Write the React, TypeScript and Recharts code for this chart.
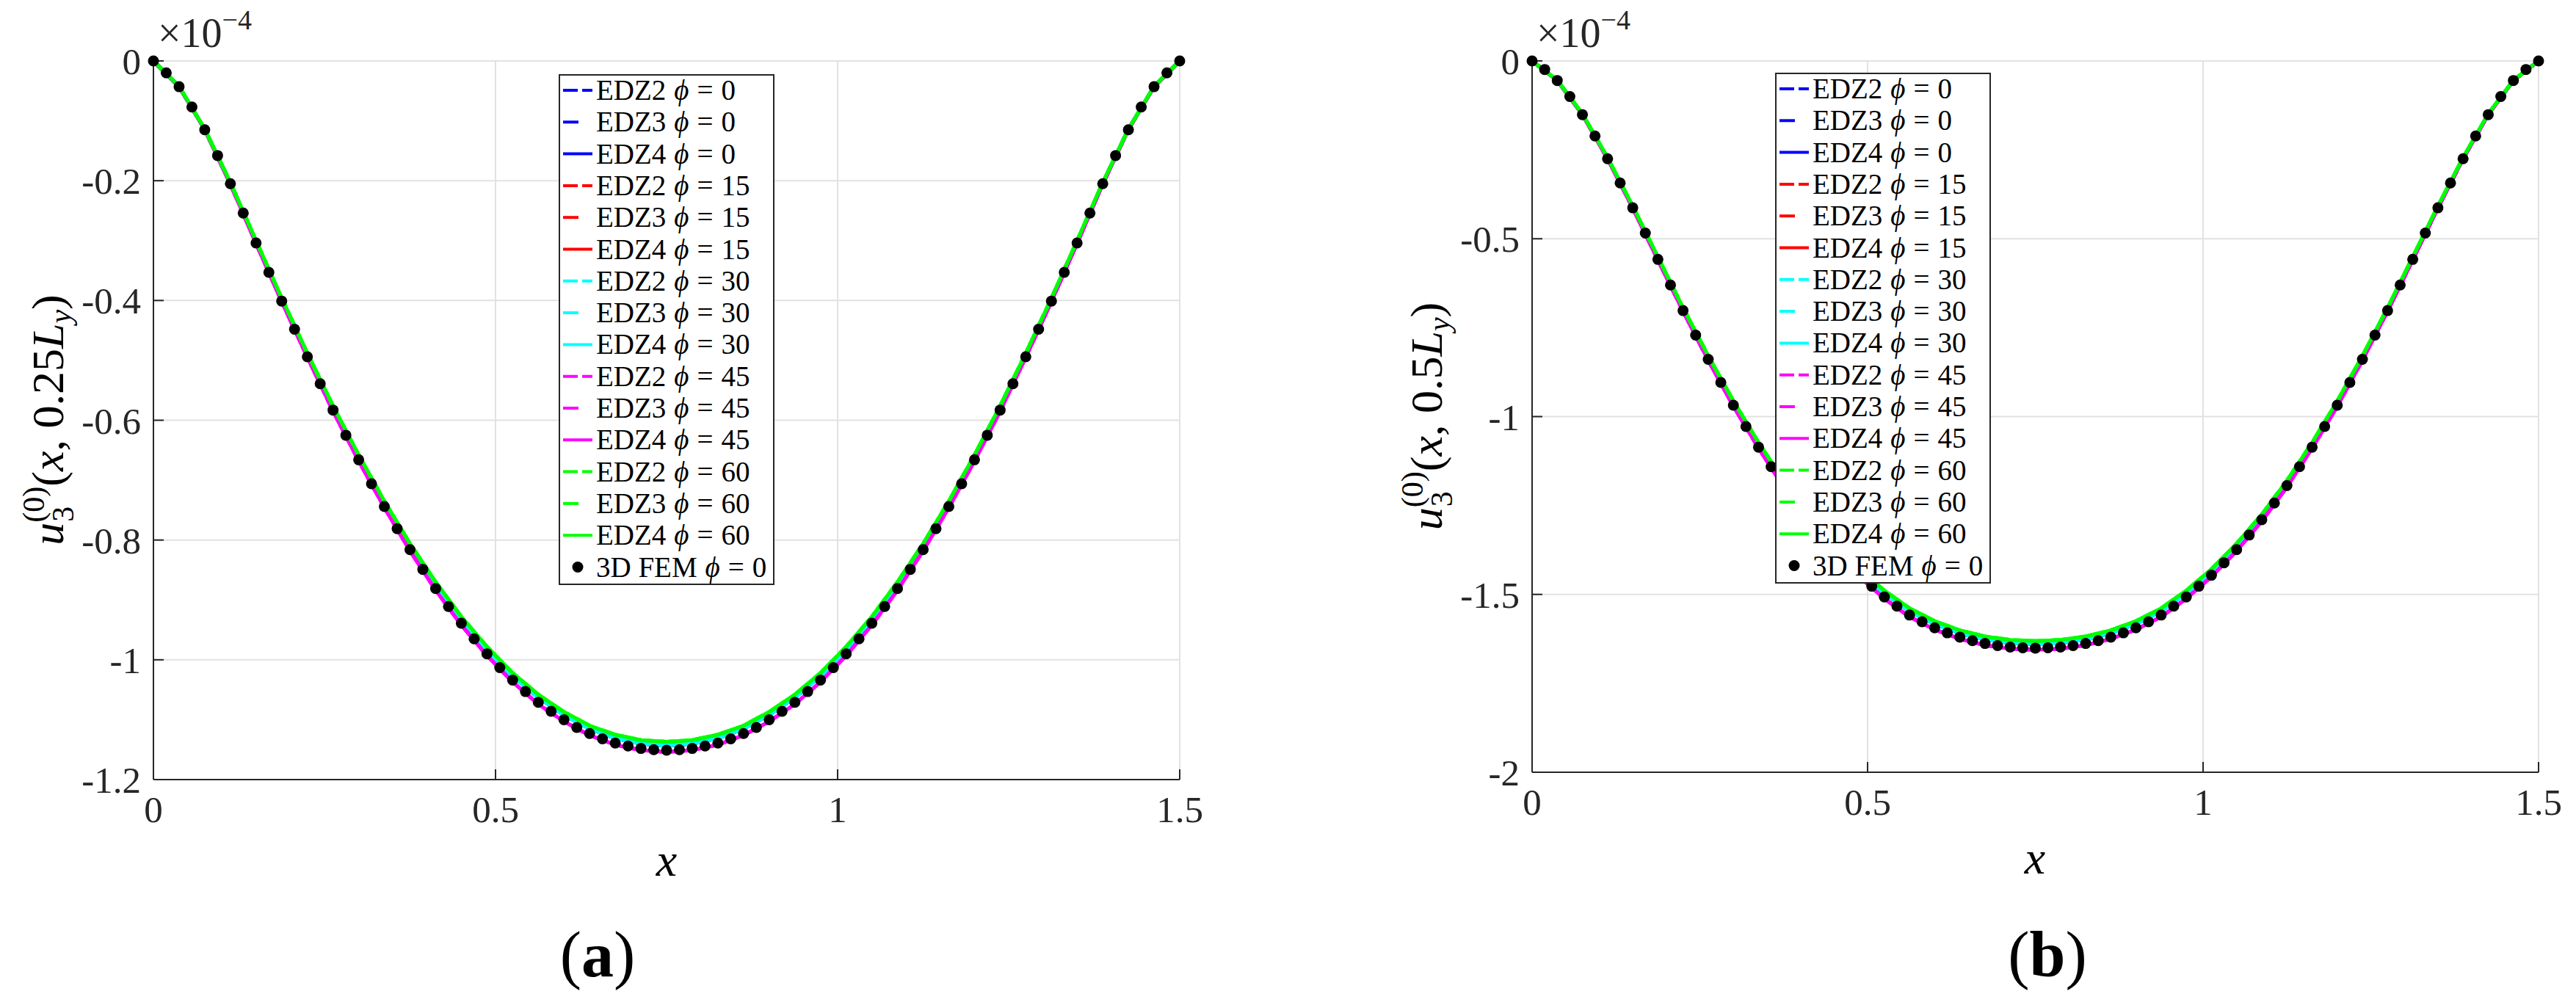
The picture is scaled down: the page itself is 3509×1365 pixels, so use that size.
import React from 'react';
import { ComposedChart, Line, Scatter, XAxis, YAxis, CartesianGrid } from 'recharts';

// sample positions along x (3D FEM points and model polyline vertices)
const xFem = [0, 0.01875, 0.0375, 0.05625, 0.075, 0.09375, 0.1125, 0.13125, 0.15, 0.16875, 0.1875, 0.20625, 0.225, 0.24375, 0.2625, 0.28125, 0.3, 0.31875, 0.3375, 0.35625, 0.375, 0.39375, 0.4125, 0.43125, 0.45, 0.46875, 0.4875, 0.50625, 0.525, 0.54375, 0.5625, 0.58125, 0.6, 0.61875, 0.6375, 0.65625, 0.675, 0.69375, 0.7125, 0.73125, 0.75, 0.76875, 0.7875, 0.80625, 0.825, 0.84375, 0.8625, 0.88125, 0.9, 0.91875, 0.9375, 0.95625, 0.975, 0.99375, 1.0125, 1.03125, 1.05, 1.06875, 1.0875, 1.10625, 1.125, 1.14375, 1.1625, 1.18125, 1.2, 1.21875, 1.2375, 1.25625, 1.275, 1.29375, 1.3125, 1.33125, 1.35, 1.36875, 1.3875, 1.40625, 1.425, 1.44375, 1.4625, 1.48125, 1.5];
const xLine = [0, 0.0375, 0.075, 0.1125, 0.15, 0.1875, 0.225, 0.2625, 0.3, 0.3375, 0.375, 0.4125, 0.45, 0.4875, 0.525, 0.5625, 0.6, 0.6375, 0.675, 0.7125, 0.75, 0.7875, 0.825, 0.8625, 0.9, 0.9375, 0.975, 1.0125, 1.05, 1.0875, 1.125, 1.1625, 1.2, 1.2375, 1.275, 1.3125, 1.35, 1.3875, 1.425, 1.4625, 1.5];

// (a) u3 at y = 0.25 Ly, units of 1e-4
const femA = [0, -0.020, -0.043, -0.077, -0.115, -0.158, -0.205, -0.254, -0.304, -0.353, -0.401, -0.448, -0.494, -0.539, -0.583, -0.625, -0.666, -0.706, -0.744, -0.781, -0.816, -0.849, -0.881, -0.911, -0.939, -0.965, -0.990, -1.013, -1.034, -1.053, -1.071, -1.086, -1.100, -1.113, -1.123, -1.132, -1.139, -1.144, -1.148, -1.150, -1.151, -1.150, -1.148, -1.144, -1.139, -1.132, -1.123, -1.113, -1.100, -1.086, -1.071, -1.053, -1.034, -1.013, -0.990, -0.965, -0.939, -0.911, -0.881, -0.849, -0.816, -0.781, -0.744, -0.706, -0.666, -0.625, -0.583, -0.539, -0.494, -0.448, -0.401, -0.353, -0.304, -0.254, -0.205, -0.158, -0.115, -0.077, -0.043, -0.020, 0];
const edzA = [0, -0.043, -0.114, -0.204, -0.302, -0.398, -0.491, -0.579, -0.661, -0.739, -0.810, -0.875, -0.932, -0.983, -1.027, -1.063, -1.092, -1.115, -1.131, -1.140, -1.143, -1.140, -1.131, -1.115, -1.092, -1.063, -1.027, -0.983, -0.932, -0.875, -0.810, -0.739, -0.661, -0.579, -0.491, -0.398, -0.302, -0.204, -0.114, -0.043, 0];
const edz45A = [0, -0.043, -0.115, -0.206, -0.305, -0.402, -0.495, -0.585, -0.668, -0.746, -0.818, -0.884, -0.942, -0.993, -1.037, -1.074, -1.103, -1.126, -1.142, -1.151, -1.154, -1.151, -1.142, -1.126, -1.103, -1.074, -1.037, -0.993, -0.942, -0.884, -0.818, -0.746, -0.668, -0.585, -0.495, -0.402, -0.305, -0.206, -0.115, -0.043, 0];
const edz60A = [0, -0.042, -0.114, -0.203, -0.300, -0.396, -0.488, -0.576, -0.658, -0.735, -0.806, -0.870, -0.928, -0.978, -1.022, -1.058, -1.087, -1.110, -1.125, -1.134, -1.137, -1.134, -1.125, -1.110, -1.087, -1.058, -1.022, -0.978, -0.928, -0.870, -0.806, -0.735, -0.658, -0.576, -0.488, -0.396, -0.300, -0.203, -0.114, -0.042, 0];

// (b) u3 at y = 0.5 Ly, units of 1e-4
const femB = [0, -0.024, -0.055, -0.100, -0.151, -0.211, -0.275, -0.343, -0.413, -0.484, -0.558, -0.630, -0.702, -0.771, -0.839, -0.904, -0.968, -1.028, -1.086, -1.141, -1.194, -1.243, -1.290, -1.333, -1.374, -1.411, -1.446, -1.477, -1.507, -1.533, -1.558, -1.577, -1.594, -1.608, -1.620, -1.630, -1.638, -1.644, -1.648, -1.650, -1.651, -1.650, -1.648, -1.644, -1.638, -1.630, -1.620, -1.608, -1.594, -1.577, -1.558, -1.533, -1.507, -1.477, -1.446, -1.411, -1.374, -1.333, -1.290, -1.243, -1.194, -1.141, -1.086, -1.028, -0.968, -0.904, -0.839, -0.771, -0.702, -0.630, -0.558, -0.484, -0.413, -0.343, -0.275, -0.211, -0.151, -0.100, -0.055, -0.024, 0];
const edzB = [0, -0.055, -0.150, -0.273, -0.410, -0.554, -0.697, -0.833, -0.961, -1.078, -1.186, -1.281, -1.364, -1.436, -1.497, -1.547, -1.583, -1.609, -1.627, -1.636, -1.639, -1.636, -1.627, -1.609, -1.583, -1.547, -1.497, -1.436, -1.364, -1.281, -1.186, -1.078, -0.961, -0.833, -0.697, -0.554, -0.410, -0.273, -0.150, -0.055, 0];
const edz45B = [0, -0.055, -0.151, -0.276, -0.414, -0.560, -0.704, -0.842, -0.971, -1.089, -1.198, -1.294, -1.378, -1.450, -1.512, -1.563, -1.599, -1.625, -1.643, -1.653, -1.656, -1.653, -1.643, -1.625, -1.599, -1.563, -1.512, -1.450, -1.378, -1.294, -1.198, -1.089, -0.971, -0.842, -0.704, -0.560, -0.414, -0.276, -0.151, -0.055, 0];
const edz60B = [0, -0.054, -0.149, -0.272, -0.408, -0.551, -0.694, -0.829, -0.956, -1.073, -1.180, -1.275, -1.357, -1.429, -1.489, -1.539, -1.575, -1.601, -1.618, -1.628, -1.631, -1.628, -1.618, -1.601, -1.575, -1.539, -1.489, -1.429, -1.357, -1.275, -1.180, -1.073, -0.956, -0.829, -0.694, -0.551, -0.408, -0.272, -0.149, -0.054, 0];

const models = ['EDZ2', 'EDZ3', 'EDZ4'];
const angles = [0, 15, 30, 45, 60];
const angleColors = ['#0000ff', '#ff0000', '#00ffff', '#ff00ff', '#00ff00'];
const modelDash = ['20 6', '21 19', ''];

const xTicks = [0, 0.5, 1, 1.5];
const xTickLabels = ['0', '0.5', '1', '1.5'];
const yTicksA = [-1.2, -1, -0.8, -0.6, -0.4, -0.2, 0];
const yTickLabelsA = ['-1.2', '-1', '-0.8', '-0.6', '-0.4', '-0.2', '0'];
const yTicksB = [-2, -1.5, -1, -0.5, 0];
const yTickLabelsB = ['-2', '-1.5', '-1', '-0.5', '0'];

const W = 3509;
const H = 1365;
const FONT = 'Liberation Serif, DejaVu Serif, serif';
const INK = '#262626';

const toPoints = (xs: number[], ys: number[]) => xs.map((x, i) => ({ x, y: ys[i] }));

const dotShape = (p: any) => <circle cx={p.cx} cy={p.cy} r={7.5} fill="#000" />;

function Panel(props: any) {
  const { left, width, plotLeft, plotRight, plotTop, plotBottom, yDomain, yTicks, yLabels, fem, lineSets } = props;
  const yw = 100;
  const xh = 80;
  const margin = {
    top: plotTop,
    left: plotLeft - left - yw,
    right: left + width - plotRight,
    bottom: H - plotBottom - xh,
  };
  const tickStyle = { fill: INK, fontSize: 51, fontFamily: FONT };
  const axisLine = { stroke: INK, strokeWidth: 2 };
  return (
    <div style={{ position: 'absolute', left, top: 0 }}>
      <ComposedChart width={width} height={H} margin={margin}>
        <CartesianGrid stroke="#e2e2e2" strokeWidth={2} />
        <XAxis
          type="number"
          dataKey="x"
          domain={[0, 1.5]}
          ticks={xTicks}
          interval={0}
          tickFormatter={(v: number) => xTickLabels[xTicks.indexOf(v)]}
          height={xh}
          tickSize={-14}
          tickMargin={36}
          axisLine={axisLine}
          tickLine={axisLine}
          tick={tickStyle}
        />
        <XAxis
          xAxisId="top"
          orientation="top"
          type="number"
          domain={[0, 1.5]}
          ticks={xTicks}
          interval={0}
          height={0}
          tickSize={-14}
          axisLine={axisLine}
          tickLine={axisLine}
          tick={false}
        />
        <YAxis
          type="number"
          domain={yDomain}
          ticks={yTicks}
          interval={0}
          tickFormatter={(v: number) => yLabels[yTicks.indexOf(v)]}
          width={yw}
          tickSize={-14}
          tickMargin={31}
          axisLine={axisLine}
          tickLine={axisLine}
          tick={tickStyle}
        />
        <YAxis
          yAxisId="right"
          orientation="right"
          type="number"
          domain={yDomain}
          ticks={yTicks}
          interval={0}
          width={0}
          tickSize={-14}
          axisLine={axisLine}
          tickLine={axisLine}
          tick={false}
        />
        {angles.flatMap((a, ai) =>
          models.map((m, mi) => (
            <Line
              key={`${m}-${a}`}
              data={toPoints(xLine, lineSets[ai])}
              dataKey="y"
              type="linear"
              stroke={angleColors[ai]}
              strokeWidth={5}
              strokeDasharray={modelDash[mi] || undefined}
              dot={false}
              isAnimationActive={false}
            />
          ))
        )}
        <Scatter data={toPoints(xFem, fem)} dataKey="y" shape={dotShape} isAnimationActive={false} />
      </ComposedChart>
    </div>
  );
}

function LegendBox({ x, y }: { x: number; y: number }) {
  const rowH = 43.3;
  const rows: any[] = [];
  angles.forEach((a, ai) =>
    models.forEach((m, mi) => rows.push({ label: m, value: a, color: angleColors[ai], dash: modelDash[mi] }))
  );
  return (
    <g fontFamily={FONT} fontSize={39} fill="#000">
      <rect x={x} y={y} width={292} height={694} fill="#fff" stroke={INK} strokeWidth={2} />
      {rows.map((r, k) => {
        const cy = y + 21 + k * rowH;
        return (
          <g key={k}>
            <line x1={x + 5} x2={x + 45} y1={cy} y2={cy} stroke={r.color} strokeWidth={4} strokeDasharray={r.dash || undefined} />
            <text x={x + 50} y={cy + 13}>
              {r.label}
              <tspan dx={11} fontStyle="italic">ϕ</tspan>
              <tspan dx={11}>=</tspan>
              <tspan dx={11}>{r.value}</tspan>
            </text>
          </g>
        );
      })}
      <circle cx={x + 25} cy={y + 21 + 15 * rowH} r={7.5} fill="#000" />
      <text x={x + 50} y={y + 21 + 15 * rowH + 13}>
        3D FEM
        <tspan dx={11} fontStyle="italic">ϕ</tspan>
        <tspan dx={11}>=</tspan>
        <tspan dx={11}>0</tspan>
      </text>
    </g>
  );
}

function YLabel({ bx, cy, pos }: { bx: number; cy: number; pos: string }) {
  return (
    <text transform={`translate(${bx},${cy}) rotate(-90)`} textAnchor="middle" fontFamily={FONT} fontSize={62} fill="#000">
      <tspan fontStyle="italic">u</tspan>
      <tspan fontSize={42} dy={-26}>(0)</tspan>
      <tspan fontSize={42} dx={-48} dy={40}>3</tspan>
      <tspan dx={27} dy={-14}>(</tspan>
      <tspan fontStyle="italic">x</tspan>
      <tspan>, {pos}</tspan>
      <tspan fontStyle="italic">L</tspan>
      <tspan fontSize={42} fontStyle="italic" dy={10}>y</tspan>
      <tspan dy={-10}>)</tspan>
    </text>
  );
}

function Labels() {
  return (
    <svg width={W} height={H} style={{ position: 'absolute', left: 0, top: 0, pointerEvents: 'none' }}>
      <LegendBox x={762} y={102} />
      <LegendBox x={2419} y={100} />
      <YLabel bx={86} cy={572} pos="0.25" />
      <YLabel bx={1964} cy={567} pos="0.5" />
      {[215, 2093].map((x) => (
        <text key={x} x={x} y={64} fontFamily={FONT} fontSize={56} fill={INK}>
          ×10<tspan fontSize={38} dy={-24}>−4</tspan>
        </text>
      ))}
      <text x={908} y={1193} textAnchor="middle" fontFamily={FONT} fontSize={64} fontStyle="italic">x</text>
      <text x={2772} y={1190} textAnchor="middle" fontFamily={FONT} fontSize={64} fontStyle="italic">x</text>
      <text x={814} y={1330} textAnchor="middle" fontFamily={FONT} fontSize={88}>
        (<tspan fontWeight="bold">a</tspan>)
      </text>
      <text x={2789} y={1330} textAnchor="middle" fontFamily={FONT} fontSize={88}>
        (<tspan fontWeight="bold">b</tspan>)
      </text>
    </svg>
  );
}

export default function App() {
  return (
    <div style={{ position: 'absolute', left: 0, top: 0, width: W, height: H, background: '#fff', overflow: 'hidden' }}>
      <Panel
        left={0}
        width={1750}
        plotLeft={209}
        plotRight={1607}
        plotTop={83}
        plotBottom={1062}
        yDomain={[-1.2, 0]}
        yTicks={yTicksA}
        yLabels={yTickLabelsA}
        fem={femA}
        lineSets={[edzA, edzA, edzA, edz45A, edz60A]}
      />
      <Panel
        left={1750}
        width={1759}
        plotLeft={2087}
        plotRight={3458}
        plotTop={83}
        plotBottom={1052}
        yDomain={[-2, 0]}
        yTicks={yTicksB}
        yLabels={yTickLabelsB}
        fem={femB}
        lineSets={[edzB, edzB, edzB, edz45B, edz60B]}
      />
      <Labels />
    </div>
  );
}
